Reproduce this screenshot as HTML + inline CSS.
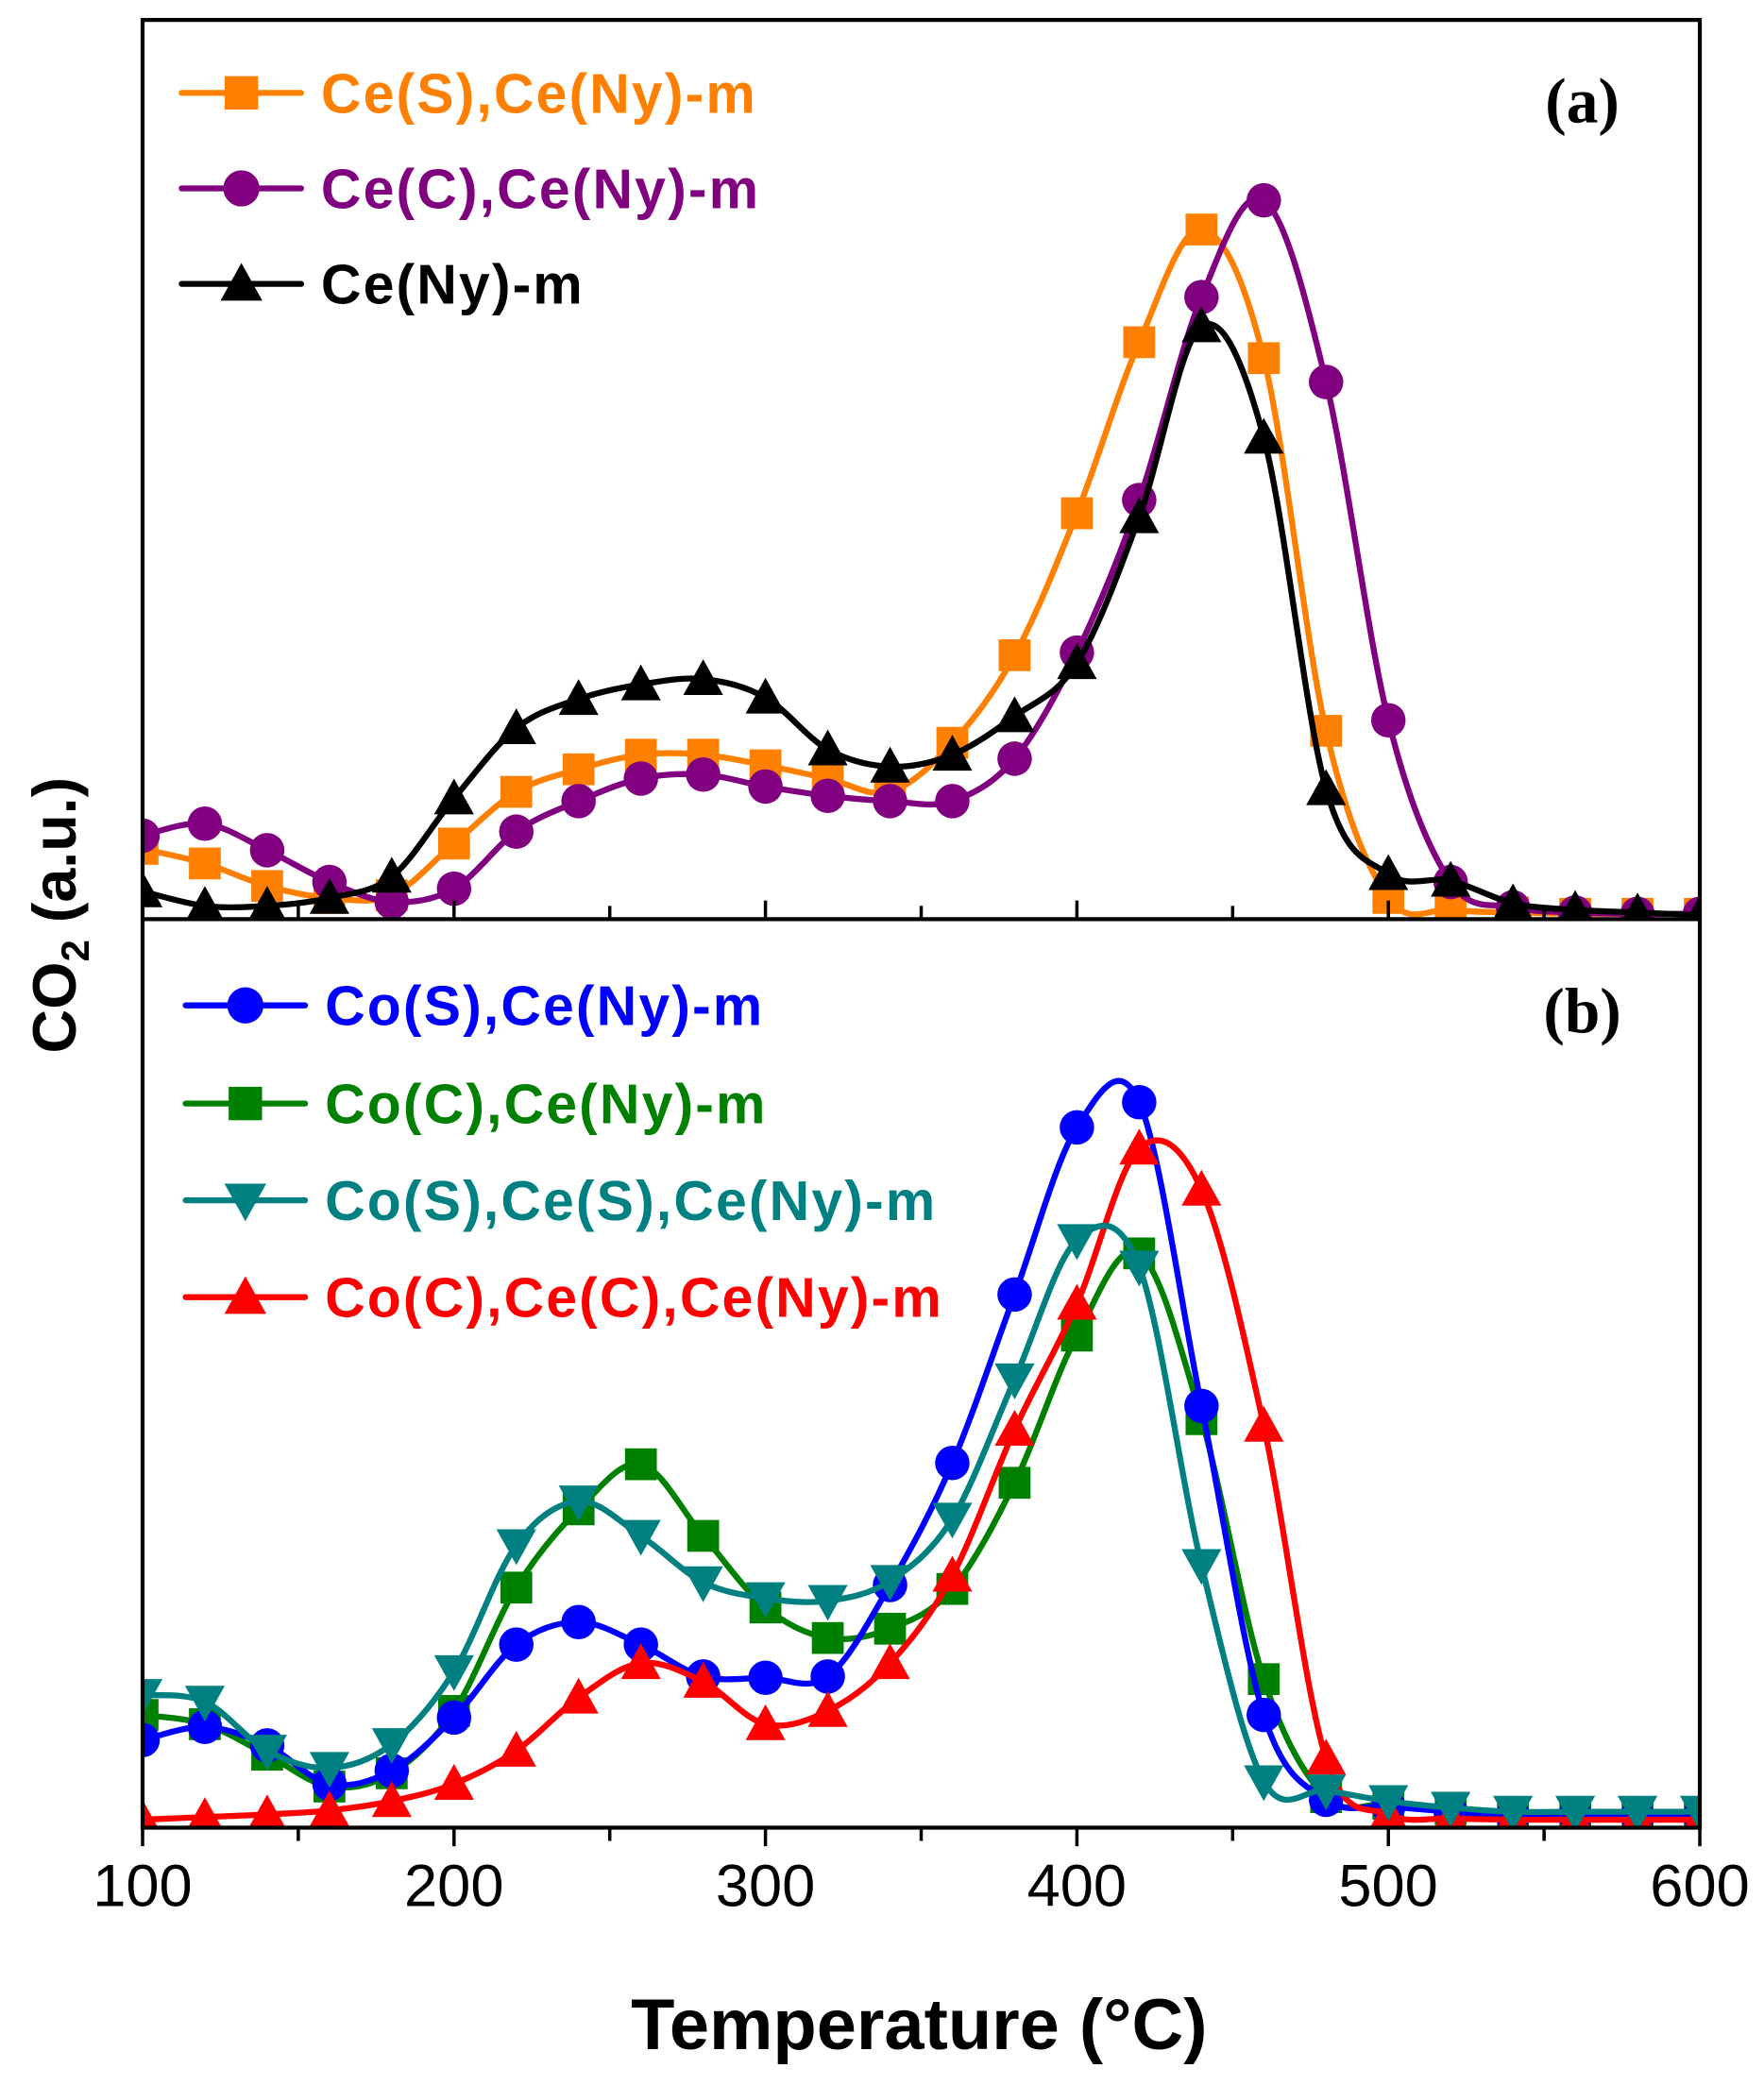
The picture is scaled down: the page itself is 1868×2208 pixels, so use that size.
<!DOCTYPE html>
<html><head><meta charset="utf-8"><style>
html,body{margin:0;padding:0;background:#fff;}
svg{display:block;}
text{font-family:"Liberation Sans","DejaVu Sans",sans-serif;}
</style></head><body>
<svg id="s" xmlns="http://www.w3.org/2000/svg" width="1868" height="2208" viewBox="0 0 1330 1572">
<rect x="0" y="0" width="1330" height="1572" fill="#fff"/>
<g id="plot"></g>
<rect x="107.5" y="15" width="1174.1" height="1363" fill="none" stroke="#000" stroke-width="3"/>
<line x1="107.5" y1="693" x2="1281.6" y2="693" stroke="#000" stroke-width="3"/>
<g id="ticks" stroke="#000" stroke-width="2.5"></g>
<g font-size="45" text-anchor="middle" fill="#000">
<text x="107.5" y="1437">100</text><text x="342.3" y="1437">200</text><text x="577.1" y="1437">300</text>
<text x="811.9" y="1437">400</text><text x="1046.7" y="1437">500</text><text x="1281.6" y="1437">600</text>
</g>
<text x="693" y="1545" font-size="54" font-weight="bold" text-anchor="middle">Temperature (°C)</text>
<text transform="translate(57,690) rotate(-90)" font-size="46" font-weight="bold" text-anchor="middle">CO<tspan font-size="30" dy="10">2</tspan><tspan dy="-10"> (a.u.)</tspan></text>
<text x="1193" y="92" font-size="48" font-weight="bold" text-anchor="middle" style="font-family:'Liberation Serif',serif">(a)</text>
<text x="1193" y="778" font-size="48" font-weight="bold" text-anchor="middle" style="font-family:'Liberation Serif',serif">(b)</text>
<g id="legend" font-size="42" font-weight="bold" letter-spacing="1.5"></g>
</svg>
<script>
var NS="http://www.w3.org/2000/svg";
function X(t){return 107.5+(t-100)*2.3482;}
function el(p,n,a){var e=document.createElementNS(NS,n);for(var k in a)e.setAttribute(k,a[k]);p.appendChild(e);return e;}
var T=[];for(var t=100;t<=600;t+=20)T.push(t);
function fill(arr,n,v){while(arr.length<n)arr.push(v);return arr;}
var S=[
{c:"#ff8000",m:"sq",y:fill([640,651,668,677,675,636,597,580,569,569,577,587,597,560,494,387,258,173,270,551,677,686,688],26,689)},
{c:"#800080",m:"ci",y:fill([630,621,641,665,680,670,627,604,587,584,593,600,604,604,572,492,377,224,151,288,543,665,684,688],26,689)},
{c:"#000000",m:"tu",y:[672,683,683,677,661,602,549,527,516,512,526,565,578,569,540,500,390,246,330,595,659,664,681,686,688,690]},
{c:"#008000",m:"sq",y:fill([1293,1300,1323,1347,1337,1290,1197,1138,1104,1158,1212,1235,1228,1198,1118,1007,945,1070,1266,1355,1360,1364],26,1367)},
{c:"#0000ff",m:"ci",y:fill([1312,1302,1316,1345,1335,1295,1240,1223,1240,1264,1265,1264,1195,1103,976,850,831,1060,1293,1357,1362,1366],26,1369)},
{c:"#ff0000",m:"tu",y:fill([1372,1370,1368,1365,1358,1345,1320,1280,1254,1268,1300,1290,1254,1188,1078,983,866,897,1075,1326,1368,1371],26,1372)},
{c:"#008080",m:"td",y:fill([1278,1283,1320,1333,1315,1260,1165,1132,1158,1193,1205,1207,1192,1145,1040,935,955,1180,1343,1350,1358,1363],26,1366)}
];
function path(ys){var p=[];for(var i=0;i<ys.length;i++)p.push([X(T[i]),ys[i]]);
var d="M"+p[0][0]+","+p[0][1];
for(var i=0;i<p.length-1;i++){var p0=p[Math.max(0,i-1)],p1=p[i],p2=p[i+1],p3=p[Math.min(p.length-1,i+2)];
var c1=[p1[0]+(p2[0]-p0[0])/6,p1[1]+(p2[1]-p0[1])/6],c2=[p2[0]-(p3[0]-p1[0])/6,p2[1]-(p3[1]-p1[1])/6];
d+=" C"+c1[0]+","+c1[1]+" "+c2[0]+","+c2[1]+" "+p2[0]+","+p2[1];}return d;}
function marker(g,m,x,y,c,s){s=s||1;
if(m=="sq")el(g,"rect",{x:x-12*s,y:y-12*s,width:24*s,height:24*s,fill:c});
else if(m=="ci")el(g,"circle",{cx:x,cy:y,r:13*s,fill:c});
else if(m=="tu")el(g,"polygon",{points:(x-15*s)+","+(y+12*s)+" "+(x+15*s)+","+(y+12*s)+" "+x+","+(y-15*s),fill:c});
else el(g,"polygon",{points:(x-15*s)+","+(y-12*s)+" "+(x+15*s)+","+(y-12*s)+" "+x+","+(y+15*s),fill:c});}
var g=document.getElementById("plot");
var clipA=el(el(g,"defs",{}),"clipPath",{id:"ca"});el(clipA,"rect",{x:107.5,y:15,width:1174.1,height:678});
var clipB=el(g.firstChild,"clipPath",{id:"cb"});el(clipB,"rect",{x:107.5,y:693,width:1174.1,height:685});
S.forEach(function(s,i){var gg=el(g,"g",{"clip-path":i<3?"url(#ca)":"url(#cb)"});
el(gg,"path",{d:path(s.y),fill:"none",stroke:s.c,"stroke-width":4.5});
for(var j=0;j<T.length;j++)marker(gg,s.m,X(T[j]),s.y[j],s.c);});
var tk=document.getElementById("ticks");
for(var t=100;t<=600;t+=50){var x=X(t),L=(t%100==0)?14:10;
el(tk,"line",{x1:x,y1:1378,x2:x,y2:1378+L});el(tk,"line",{x1:x,y1:693,x2:x,y2:693-L});}
var lg=document.getElementById("legend");
var LA=[["Ce(S),Ce(Ny)-m","#ff8000","sq",70],["Ce(C),Ce(Ny)-m","#800080","ci",142],["Ce(Ny)-m","#000000","tu",214],
["Co(S),Ce(Ny)-m","#0000ff","ci",758],["Co(C),Ce(Ny)-m","#008000","sq",832],["Co(S),Ce(S),Ce(Ny)-m","#008080","td",905],["Co(C),Ce(C),Ce(Ny)-m","#ff0000","tu",978]];
LA.forEach(function(l,i){var x0=i<3?137:140;
el(lg,"line",{x1:x0,y1:l[3],x2:x0+90,y2:l[3],stroke:l[1],"stroke-width":4.5,"stroke-linecap":"round"});
marker(lg,l[2],x0+45,l[3],l[1],1.05);
var t=el(lg,"text",{x:x0+105,y:l[3]+15,fill:l[1]});t.textContent=l[0];});
</script>
</body></html>
